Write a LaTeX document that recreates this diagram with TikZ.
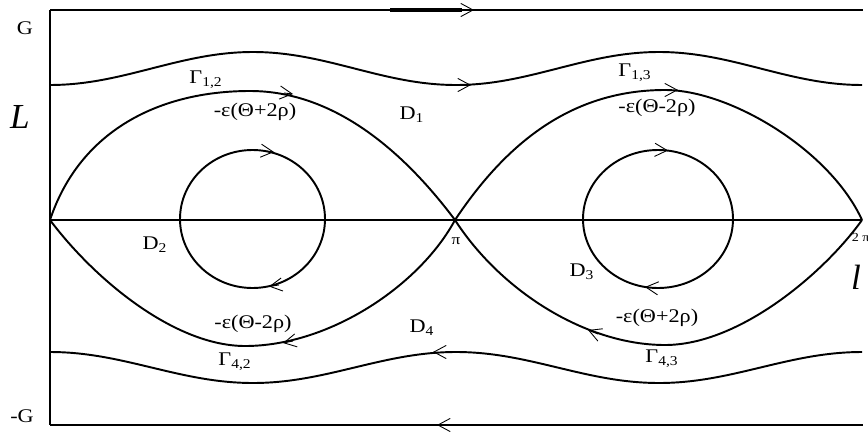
\documentclass[tikz,border=0pt]{standalone}
\usepackage{fontspec}
\setmainfont[FakeStretch=1.15]{Liberation Serif}
\newfontfamily\axisfont{Liberation Serif}
\usetikzlibrary{arrows.meta}

\begin{document}
\begin{tikzpicture}[x=0.02cm,y=-0.02cm,line width=1.1pt,
    font=\fontsize{11}{13}\selectfont,
    flow/.style={-{Straight Barb[length=7pt,width=7.5pt]},line width=0.5pt},
    tiny/.style={font=\fontsize{8.5}{9}\selectfont},
    axis/.style={font=\axisfont\fontsize{20}{22}\selectfont\itshape}]
  \useasboundingbox (0,0) rectangle (868,436);

  % 边框与 l 轴
  \coordinate (TL) at (50,10);
  \coordinate (TR) at (863,10);
  \coordinate (BL) at (50,425);
  \coordinate (BR) at (863,425);
  \coordinate (O) at (50,220);
  \coordinate (P) at (455,220);
  \coordinate (Q) at (862,220);
  \draw (TL) -- (BL);
  \draw (TL) -- (TR);
  \draw (BL) -- (BR);
  \draw[line width=0.6pt] (O) -- (Q);

  % 分界线 (两个眼形区域), 在 P=pi 处相交
  \coordinate (A1) at (250,91);
  \coordinate (B1) at (245,346);
  \coordinate (A2) at (665,90);
  \coordinate (B2) at (665,345);
  \draw (O) .. controls (80,130) and (160,91) .. (A1)
            .. controls (340,91) and (410,160) .. (P);
  \draw (O) .. controls (95,280) and (175,346) .. (B1)
            .. controls (330,346) and (420,285) .. (P);
  \draw (P) .. controls (505,145) and (570,90) .. (A2)
            .. controls (730,90) and (830,150) .. (Q);
  \draw (P) .. controls (500,290) and (585,345) .. (B2)
            .. controls (740,345) and (825,272) .. (Q);

  % 内部闭轨
  \draw (252.5,219) ellipse (72.5 and 69);
  \draw (658,219) ellipse (75 and 69);

  % 外侧波动轨道 Gamma, 周期 406 (0.8867 = 360/406)
  \draw plot[domain=50:862,samples=120,smooth] (\x,{68.5+16.5*cos(0.8867*(\x-50))});
  \draw plot[domain=50:862,samples=120,smooth] (\x,{367.5-15.5*cos(0.8867*(\x-50))});

  % 方向箭头
  \draw[line width=2pt] (390,10) -- (462,10);
  \draw[flow] (466,10) -- (474,10);
  \draw[flow] (462,85) -- (471,85);
  \draw[flow] (284,93) -- (293,94);
  \draw[flow] (264,151) -- (274,152);
  \draw[flow] (668,90) -- (678,90);
  \draw[flow] (658,150) -- (668,150.5);
  \draw[flow] (279,285) -- (269,286.5);
  \draw[flow] (293,341) -- (283,343);
  \draw[flow] (655,288) -- (645,287);
  \draw[flow] (598,334) -- (588,330);
  \draw[flow] (442,352) -- (433,352);
  \draw[flow] (446,425) -- (437,425);

  % 标注
  \node (G) at (25,28) {G};
  \node (mG) at (22,416) {-G};
  \node[axis] (Lax) at (20,117) {L};
  \node[axis] (lax) at (856,277) {l};
  \node[tiny] (piL) at (456,241) {π};
  \node[tiny,anchor=west,font=\fontsize{7}{8}\selectfont] (tpi) at (845,237) {2 π};
  \node (D1) at (412,115) {D\textsubscript{1}};
  \node (D2) at (155,245) {D\textsubscript{2}};
  \node (D3) at (582,272) {D\textsubscript{3}};
  \node (D4) at (422,328) {D\textsubscript{4}};
  \node (G12) at (206,80) {Γ\textsubscript{1,2}};
  \node (G13) at (635,73) {Γ\textsubscript{1,3}};
  \node (G42) at (235,362) {Γ\textsubscript{4,2}};
  \node (G43) at (662,359) {Γ\textsubscript{4,3}};
  \node (e1) at (255,112) {-ε(Θ+2ρ)};
  \node (e2) at (657,108) {-ε(Θ-2ρ)};
  \node (e3) at (253,324) {-ε(Θ-2ρ)};
  \node (e4) at (657,318) {-ε(Θ+2ρ)};
\end{tikzpicture}
\end{document}
